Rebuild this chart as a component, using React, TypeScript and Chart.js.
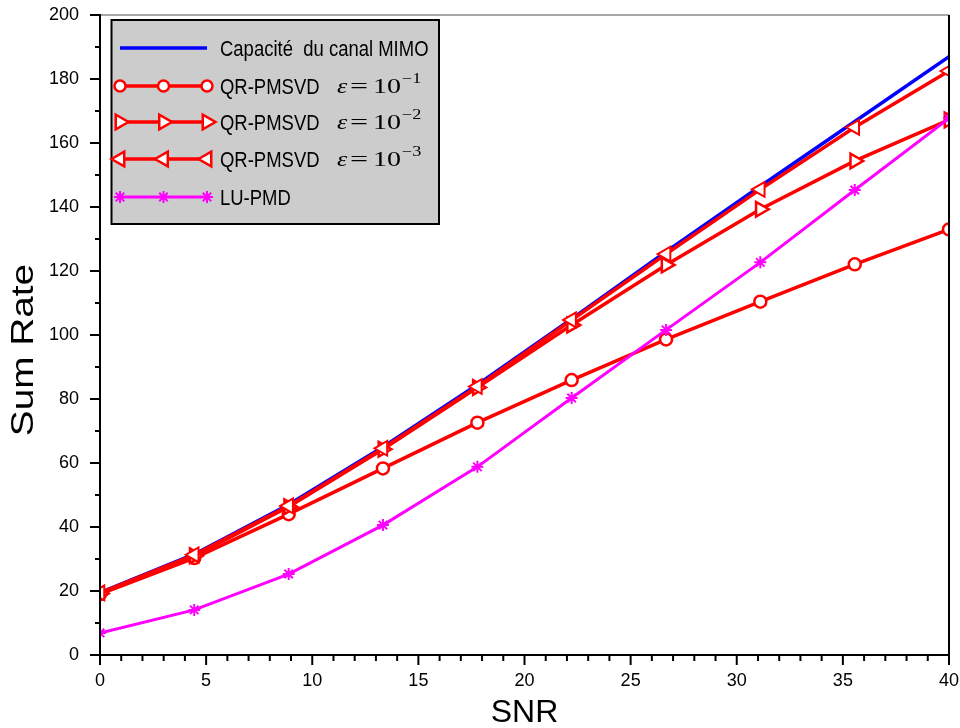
import React, { useEffect, useRef } from 'react';
import { Chart, registerables } from 'chart.js';

Chart.register(...registerables);

// ---------- data ----------
const snr = [0, 4.44, 8.89, 13.33, 17.78, 22.22, 26.67, 31.11, 35.56, 40];
const capacityMIMO = [19.5, 31.5, 47, 65, 84.5, 105, 126, 146.5, 166.7, 187];
const qrEps1 = [19, 30.3, 44, 58.3, 72.6, 85.9, 98.6, 110.4, 122.1, 133];
const qrEps2 = [19.2, 31, 46.3, 64.3, 83.6, 103.1, 121.9, 139.3, 154.4, 167.2];
const qrEps3 = [19.4, 31.3, 46.6, 64.6, 83.9, 104.7, 125.3, 145.5, 164.9, 182.5];
const luPmd = [6.9, 14.1, 25.3, 40.6, 58.8, 80.3, 101.6, 122.7, 145.3, 167.7];

const seriesNames = ['Capacité  du canal MIMO', 'QR-PMSVD', 'QR-PMSVD', 'QR-PMSVD', 'LU-PMD'];
const epsExponents = ['', '−1', '−2', '−3', ''];
const xTitle = 'SNR';
const yTitle = 'Sum Rate';
const xRange = [0, 40];
const yRange = [0, 200];
const xMajorStep = 5;
const xMinorStep = 1;
const yMajorStep = 20;
const yMinorStep = 10;

const SANS = 'Arial, "Liberation Sans", sans-serif';
const SERIF = '"Liberation Serif", "DejaVu Serif", serif';

const toPoints = (ys: number[]) => ys.map((v, i) => ({ x: snr[i], y: v }));

type Marker = 'none' | 'circle' | 'triRight' | 'triLeft' | 'star';

function drawMarker(ctx: CanvasRenderingContext2D, kind: Marker, x: number, y: number, r: number, color: string, lw: number) {
  if (kind === 'none') return;
  ctx.save();
  ctx.strokeStyle = color;
  ctx.fillStyle = '#ffffff';
  ctx.lineWidth = lw;
  ctx.beginPath();
  if (kind === 'circle') {
    ctx.arc(x, y, r, 0, Math.PI * 2);
    ctx.fill();
    ctx.stroke();
  } else if (kind === 'triRight' || kind === 'triLeft') {
    let rad = (kind === 'triRight' ? 90 : -90) * Math.PI / 180;
    for (let k = 0; k < 3; k++) {
      const px = x + Math.sin(rad) * r;
      const py = y - Math.cos(rad) * r;
      if (k === 0) ctx.moveTo(px, py); else ctx.lineTo(px, py);
      rad += (2 * Math.PI) / 3;
    }
    ctx.closePath();
    ctx.fill();
    ctx.stroke();
  } else if (kind === 'star') {
    for (let k = 0; k < 4; k++) {
      const a = (k * Math.PI) / 4;
      ctx.moveTo(x + Math.sin(a) * r, y - Math.cos(a) * r);
      ctx.lineTo(x - Math.sin(a) * r, y + Math.cos(a) * r);
    }
    ctx.stroke();
  }
  ctx.restore();
}

const legendMarkers: Marker[] = ['none', 'circle', 'triRight', 'triLeft', 'star'];

function scaledText(ctx: CanvasRenderingContext2D, text: string, x: number, y: number, font: string, sx: number) {
  ctx.save();
  ctx.font = font;
  ctx.translate(x, y);
  ctx.scale(sx, 1);
  ctx.textAlign = 'left';
  ctx.textBaseline = 'alphabetic';
  ctx.fillText(text, 0, 0);
  ctx.restore();
}

const decorPlugin = {
  id: 'decor',
  afterDraw(chart: any) {
    const { ctx, chartArea: a, scales } = chart;
    const xs = scales.x;
    const ys = scales.y;
    const line = (x1: number, y1: number, x2: number, y2: number) => {
      ctx.beginPath();
      ctx.moveTo(x1, y1);
      ctx.lineTo(x2, y2);
      ctx.stroke();
    };
    ctx.save();
    ctx.lineCap = 'butt';
    // frame
    ctx.strokeStyle = '#8a8a8a';
    ctx.lineWidth = 1.5;
    line(a.left, a.top, a.right, a.top);
    ctx.strokeStyle = '#000';
    ctx.lineWidth = 2;
    line(a.right, a.top, a.right, a.bottom);
    line(a.left, a.top - 1, a.left, a.bottom + 1);
    line(a.left - 1, a.bottom, a.right + 1, a.bottom);
    // x ticks
    for (let v = xRange[0]; v <= xRange[1] + 1e-9; v += xMinorStep) {
      const px = xs.getPixelForValue(v);
      const major = Math.abs(v / xMajorStep - Math.round(v / xMajorStep)) < 1e-6;
      line(px, a.bottom, px, a.bottom + (major ? 10 : 6));
    }
    // y ticks
    for (let v = yRange[0]; v <= yRange[1] + 1e-9; v += yMinorStep) {
      const py = ys.getPixelForValue(v);
      const major = Math.abs(v / yMajorStep - Math.round(v / yMajorStep)) < 1e-6;
      line(a.left, py, a.left - (major ? 10 : 5), py);
    }
    // axis titles
    ctx.fillStyle = '#000';
    ctx.font = `32px ${SANS}`;
    ctx.textAlign = 'center';
    ctx.textBaseline = 'alphabetic';
    ctx.fillText(xTitle, (a.left + a.right) / 2, 722);
    ctx.save();
    ctx.translate(33, 350);
    ctx.rotate(-Math.PI / 2);
    ctx.scale(1.25, 1);
    ctx.font = `31px ${SANS}`;
    ctx.textAlign = 'center';
    ctx.fillText(yTitle, 0, 0);
    ctx.restore();

    // legend box
    const bx = 111.5, by = 20, bw = 327.5, bh = 204;
    ctx.fillStyle = '#cccccc';
    ctx.fillRect(bx, by, bw, bh);
    ctx.strokeStyle = '#000';
    ctx.lineWidth = 2;
    ctx.strokeRect(bx, by, bw, bh);

    const rowY = [48, 86, 122, 159, 197];
    const ds = chart.data.datasets;
    for (let i = 0; i < ds.length; i++) {
      const cy = rowY[i];
      const color = ds[i].borderColor;
      ctx.strokeStyle = color;
      ctx.lineWidth = ds[i].borderWidth;
      line(120, cy, 207, cy);
      const mk = legendMarkers[i];
      const r = mk === 'circle' ? 5.5 : mk === 'star' ? 6 : 8.5;
      const lw = mk === 'star' ? 2 : 2.5;
      for (const mx of [120, 163.5, 207]) drawMarker(ctx, mk, mx, cy, r, color, lw);
      ctx.fillStyle = '#000';
      scaledText(ctx, seriesNames[i], 220, cy + 8, `22px ${SANS}`, 0.84);
      if (epsExponents[i]) {
        scaledText(ctx, 'ε', 337, cy + 7, `italic 20px ${SERIF}`, 1.3);
        scaledText(ctx, '=', 350, cy + 7, `20px ${SERIF}`, 1.6);
        scaledText(ctx, '10', 373, cy + 7, `20px ${SERIF}`, 1.4);
        scaledText(ctx, epsExponents[i], 402, cy - 3, `14px ${SERIF}`, 1.3);
      }
    }
    ctx.restore();
  },
};

export default function App() {
  const ref = useRef<HTMLCanvasElement | null>(null);
  useEffect(() => {
    if (!ref.current) return;
    const red = '#ff0000';
    const chart = new Chart(ref.current, {
      type: 'line',
      data: {
        datasets: [
          {
            label: seriesNames[0],
            data: toPoints(capacityMIMO),
            borderColor: '#0000ff',
            borderWidth: 3.5,
            pointRadius: 0,
            order: 5,
          },
          {
            label: seriesNames[1],
            data: toPoints(qrEps1),
            borderColor: red,
            borderWidth: 3.5,
            pointStyle: 'circle',
            pointRadius: 6,
            pointBorderWidth: 2.5,
            pointBackgroundColor: '#ffffff',
            pointBorderColor: red,
            order: 4,
          },
          {
            label: seriesNames[2],
            data: toPoints(qrEps2),
            borderColor: red,
            borderWidth: 3.5,
            pointStyle: 'triangle',
            pointRotation: 90,
            pointRadius: 8.5,
            pointBorderWidth: 2.5,
            pointBackgroundColor: '#ffffff',
            pointBorderColor: red,
            order: 3,
          },
          {
            label: seriesNames[3],
            data: toPoints(qrEps3),
            borderColor: red,
            borderWidth: 3.5,
            pointStyle: 'triangle',
            pointRotation: -90,
            pointRadius: 8.5,
            pointBorderWidth: 2,
            pointBackgroundColor: '#ffffff',
            pointBorderColor: red,
            order: 2,
          },
          {
            label: seriesNames[4],
            data: toPoints(luPmd),
            borderColor: '#ff00ff',
            borderWidth: 3,
            pointStyle: 'star',
            pointRadius: 6,
            pointBorderWidth: 2,
            pointBorderColor: '#ff00ff',
            order: 1,
          },
        ],
      },
      options: {
        responsive: false,
        animation: false,
        layout: { padding: { top: 15, right: 10, left: 0, bottom: 0 } },
        plugins: { legend: { display: false }, tooltip: { enabled: false } },
        elements: { line: { tension: 0 } },
        scales: {
          x: {
            type: 'linear',
            min: xRange[0],
            max: xRange[1],
            grid: { display: false },
            border: { display: false },
            ticks: {
              stepSize: xMajorStep,
              color: '#000',
              padding: 7,
              maxRotation: 0,
              font: { family: SANS, size: 18 },
            },
            afterFit: (s: any) => {
              s.height = 73;
              s.paddingLeft = 0;
              s.paddingRight = 0;
            },
          },
          y: {
            type: 'linear',
            min: yRange[0],
            max: yRange[1],
            grid: { display: false },
            border: { display: false },
            ticks: {
              stepSize: yMajorStep,
              color: '#000',
              padding: 13,
              font: { family: SANS, size: 18 },
            },
            afterFit: (s: any) => {
              s.width = 100;
              s.paddingTop = 0;
              s.paddingBottom = 0;
            },
          },
        },
      },
      plugins: [decorPlugin],
    });
    return () => chart.destroy();
  }, []);
  return (
    <div style={{ position: 'absolute', left: 0, top: 0, width: 960, height: 728, background: '#fff' }}>
      <canvas ref={ref} width={960} height={728} style={{ width: 960, height: 728, display: 'block' }} />
    </div>
  );
}
